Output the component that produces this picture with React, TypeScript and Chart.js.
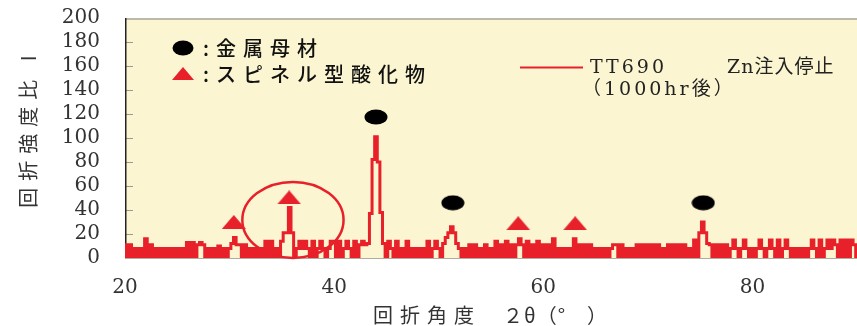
import React, { useEffect, useRef } from 'react';
import { Chart, registerables } from 'chart.js';

Chart.register(...registerables);

// ---- data ----
const thetaStart = 20;
const thetaStep = 0.25;
// diffraction intensity every 0.25 deg from 20 to 90
const intensity = [
  // 20
  11, 1, 11, 1, 8, 1, 8, 1, 16, 1, 11, 1, 8, 1, 8, 1, 8, 1, 8, 1,
  // 25
  8, 1, 8, 1, 13, 1, 13, 1, 11, 13, 11, 1, 8, 1, 8, 1, 10, 1, 8, 1,
  // 30
  8, 12, 17, 11, 11, 1, 11, 1, 8, 1, 8, 1, 8, 1, 14, 1, 14, 1, 8, 1,
  // 35
  14, 21, 21, 42, 21, 1, 8, 14, 8, 14, 8, 1, 14, 1, 8, 14, 8, 1, 8, 14,
  // 40
  14, 1, 14, 1, 8, 14, 8, 1, 14, 1, 11, 14, 11, 12, 37, 82, 101, 80, 38, 12,
  // 45
  1, 14, 8, 1, 14, 1, 8, 1, 14, 1, 8, 1, 8, 1, 8, 1, 14, 1, 8, 14,
  // 50
  8, 1, 12, 17, 21, 26, 21, 12, 8, 1, 8, 1, 11, 1, 11, 1, 8, 1, 11, 1,
  // 55
  8, 1, 14, 1, 11, 1, 14, 1, 11, 1, 11, 16, 11, 1, 14, 1, 11, 1, 14, 1,
  // 60
  11, 1, 11, 1, 16, 1, 8, 1, 8, 1, 8, 1, 16, 1, 11, 1, 11, 1, 11, 1,
  // 65
  8, 1, 8, 1, 8, 1, 8, 11, 11, 1, 11, 1, 8, 1, 8, 1, 11, 1, 11, 1,
  // 70
  11, 1, 11, 1, 11, 1, 8, 1, 11, 1, 11, 1, 11, 1, 11, 1, 8, 1, 15, 1,
  // 75
  21, 30, 21, 12, 11, 1, 11, 1, 11, 1, 11, 1, 8, 15, 8, 1, 8, 15, 8, 1,
  // 80
  8, 1, 8, 15, 8, 1, 8, 15, 8, 1, 15, 1, 8, 15, 8, 1, 8, 1, 8, 1,
  // 85
  8, 1, 8, 15, 8, 1, 15, 1, 8, 15, 8, 15, 11, 1, 15, 1, 15, 1, 15, 11,
  // 90
  1,
];

const metalX = [44.0, 51.35, 75.3];
const metalY = [117.5, 46, 46];
const spinelX = [30.4, 35.7, 57.6, 63.05];
const spinelY = [30, 50.5, 29, 29];

const xMin = 20;
const xMax = 90;
const xStep = 20;
const yMin = 0;
const yMax = 200;
const yStep = 20;

// highlighted region (ellipse) in data units
const ringCenterX = 36.06;
const ringCenterY = 31.7;
const ringRadiusX = 4.84;
const ringRadiusY = 31.7;

const metalLabel = ':金属母材';
const spinelLabel = ':スピネル型酸化物';
const seriesLabel1a = 'TT690';
const seriesLabel1b = 'Zn注入停止';
const seriesLabel2 = '（1000hr後）';
const xTitleA = '回折角度';
const xTitleB = '２θ（°　）';
const yTitle = '回折強度比 I';

// ---- styles ----
const RED = '#e8202a';
const PLOT_BG = '#fbf6d1';
const SERIF = '"DejaVu Serif", "Liberation Serif", serif';
const SERIF_CJK = '"DejaVu Serif", "Noto Sans CJK JP", serif';
const CJK = '"Noto Sans CJK JP", "Noto Sans", sans-serif';

function makeEllipse(w: number, h: number, color: string) {
  const c = document.createElement('canvas');
  c.width = w;
  c.height = h;
  const g = c.getContext('2d')!;
  g.fillStyle = color;
  g.beginPath();
  g.ellipse(w / 2, h / 2, w / 2 - 0.5, h / 2 - 0.5, 0, 0, Math.PI * 2);
  g.fill();
  return c;
}

function makeTriangle(w: number, h: number, color: string) {
  const c = document.createElement('canvas');
  c.width = w;
  c.height = h;
  const g = c.getContext('2d')!;
  g.fillStyle = color;
  g.beginPath();
  g.moveTo(w / 2, 0);
  g.lineTo(w, h);
  g.lineTo(0, h);
  g.closePath();
  g.fill();
  return c;
}

export default function App() {
  const ref = useRef<HTMLCanvasElement>(null);

  useEffect(() => {
    document.body.style.margin = '0';
    const canvas = ref.current!;
    const dot = makeEllipse(24, 16, '#000');
    const tri = makeTriangle(24, 14, RED);
    const dotLegend = makeEllipse(22, 16, '#000');
    const triLegend = makeTriangle(22, 13, RED);

    const pattern = intensity.map((v, i) => ({ x: thetaStart + i * thetaStep, y: v }));
    const metal = metalX.map((x, i) => ({ x, y: metalY[i] }));
    const spinel = spinelX.map((x, i) => ({ x, y: spinelY[i] }));

    const decor = {
      id: 'decor',
      beforeDraw(chart: any) {
        const { ctx, chartArea: a } = chart;
        ctx.save();
        ctx.fillStyle = PLOT_BG;
        ctx.fillRect(a.left, a.top, a.right - a.left, a.bottom - a.top);
        ctx.restore();
      },
      beforeDatasetsDraw(chart: any) {
        const { ctx, chartArea: a, scales } = chart;
        const y = scales.y;
        ctx.save();
        ctx.strokeStyle = '#9a9a90';
        ctx.lineWidth = 1;
        for (let v = yMin + yStep; v < yMax; v += yStep) {
          const py = Math.round(y.getPixelForValue(v)) + 0.5;
          ctx.beginPath();
          ctx.moveTo(a.left, py);
          ctx.lineTo(a.left + 8, py);
          ctx.stroke();
        }
        ctx.strokeStyle = '#bdb9a8';
        ctx.lineWidth = 2;
        ctx.beginPath();
        ctx.moveTo(a.left, a.top + 1);
        ctx.lineTo(a.right, a.top + 1);
        ctx.stroke();
        ctx.strokeStyle = '#b0aca0';
        ctx.lineWidth = 1;
        ctx.beginPath();
        ctx.moveTo(a.left, a.bottom + 0.5);
        ctx.lineTo(a.right, a.bottom + 0.5);
        ctx.stroke();
        ctx.strokeStyle = '#222';
        ctx.lineWidth = 1.5;
        ctx.beginPath();
        ctx.moveTo(a.left + 0.75, a.top);
        ctx.lineTo(a.left + 0.75, a.bottom);
        ctx.stroke();
        ctx.restore();
      },
      afterDatasetsDraw(chart: any) {
        const { ctx, scales } = chart;
        const x = scales.x;
        const y = scales.y;
        const cx = x.getPixelForValue(ringCenterX);
        const cy = y.getPixelForValue(ringCenterY);
        const rx = x.getPixelForValue(ringCenterX + ringRadiusX) - cx;
        const ry = cy - y.getPixelForValue(ringCenterY + ringRadiusY);
        ctx.save();
        ctx.strokeStyle = RED;
        ctx.lineWidth = 2.5;
        ctx.beginPath();
        ctx.ellipse(cx, cy, rx, ry, 0, 0, Math.PI * 2);
        ctx.stroke();
        ctx.restore();
      },
      afterDraw(chart: any) {
        const { ctx } = chart;
        ctx.save();
        ctx.drawImage(dotLegend, 183 - 11, 48 - 8);
        ctx.drawImage(triLegend, 183 - 11, 74 - 7);
        ctx.textBaseline = 'middle';
        ctx.textAlign = 'left';
        ctx.fillStyle = '#111';
        ctx.font = `500 20px ${CJK}`;
        (ctx as any).letterSpacing = '7px';
        ctx.fillText(metalLabel, 203, 48);
        ctx.fillText(spinelLabel, 203, 74);

        ctx.strokeStyle = RED;
        ctx.lineWidth = 2;
        ctx.beginPath();
        ctx.moveTo(520, 67.5);
        ctx.lineTo(583, 67.5);
        ctx.stroke();
        ctx.fillStyle = '#222';
        ctx.font = `19px ${SERIF}`;
        (ctx as any).letterSpacing = '3px';
        ctx.fillText(seriesLabel1a, 590, 68);
        ctx.font = `19px ${SERIF_CJK}`;
        (ctx as any).letterSpacing = '1px';
        ctx.fillText(seriesLabel1b, 727, 68);
        (ctx as any).letterSpacing = '3px';
        ctx.fillText(seriesLabel2, 582, 90);

        ctx.fillStyle = '#333';
        ctx.font = `20px ${CJK}`;
        (ctx as any).letterSpacing = '7px';
        ctx.fillText(xTitleA, 373, 315);
        (ctx as any).letterSpacing = '1px';
        ctx.fillText(xTitleB, 503, 315);

        ctx.translate(28, 128);
        ctx.rotate(-Math.PI / 2);
        ctx.textAlign = 'center';
        (ctx as any).letterSpacing = '7px';
        ctx.fillText(yTitle, 0, 0);
        ctx.restore();
      },
    };

    const chart = new Chart(canvas, {
      type: 'line',
      data: {
        datasets: [
          {
            label: 'TT690 Zn注入停止（1000hr後）',
            data: pattern,
            borderColor: RED,
            borderWidth: 3,
            pointRadius: 0,
            stepped: 'middle',
            fill: false,
            order: 2,
          },
          {
            label: '金属母材',
            data: metal,
            showLine: false,
            pointStyle: dot as any,
            pointRadius: 12,
            order: 1,
          },
          {
            label: 'スピネル型酸化物',
            data: spinel,
            showLine: false,
            pointStyle: tri as any,
            pointRadius: 12,
            order: 1,
          },
        ],
      },
      options: {
        responsive: false,
        animation: false,
        devicePixelRatio: 1,
        layout: { autoPadding: false, padding: { top: 18, right: 0, left: 0, bottom: 0 } },
        plugins: {
          legend: { display: false },
          tooltip: { enabled: false },
        },
        scales: {
          x: {
            type: 'linear',
            min: xMin,
            max: xMax,
            ticks: {
              stepSize: xStep,
              includeBounds: false,
              font: { family: SERIF, size: 20 },
              color: '#333',
              padding: 18,
              maxRotation: 0,
            },
            grid: { display: false, drawTicks: false },
            border: { display: false },
            afterFit: (s: any) => {
              s.height = 68;
              s.paddingLeft = 0;
              s.paddingRight = 0;
            },
          },
          y: {
            min: yMin,
            max: yMax,
            ticks: {
              stepSize: yStep,
              autoSkip: false,
              font: { family: SERIF, size: 20 },
              color: '#333',
              padding: 25,
            },
            grid: { display: false, drawTicks: false },
            border: { display: false },
            afterFit: (s: any) => {
              s.width = 125;
              s.paddingTop = 0;
              s.paddingBottom = 0;
            },
          },
        },
      },
      plugins: [decor],
    } as any);

    return () => chart.destroy();
  }, []);

  return (
    <canvas
      ref={ref}
      width={857}
      height={326}
      style={{ display: 'block', width: '857px', height: '326px' }}
    />
  );
}
